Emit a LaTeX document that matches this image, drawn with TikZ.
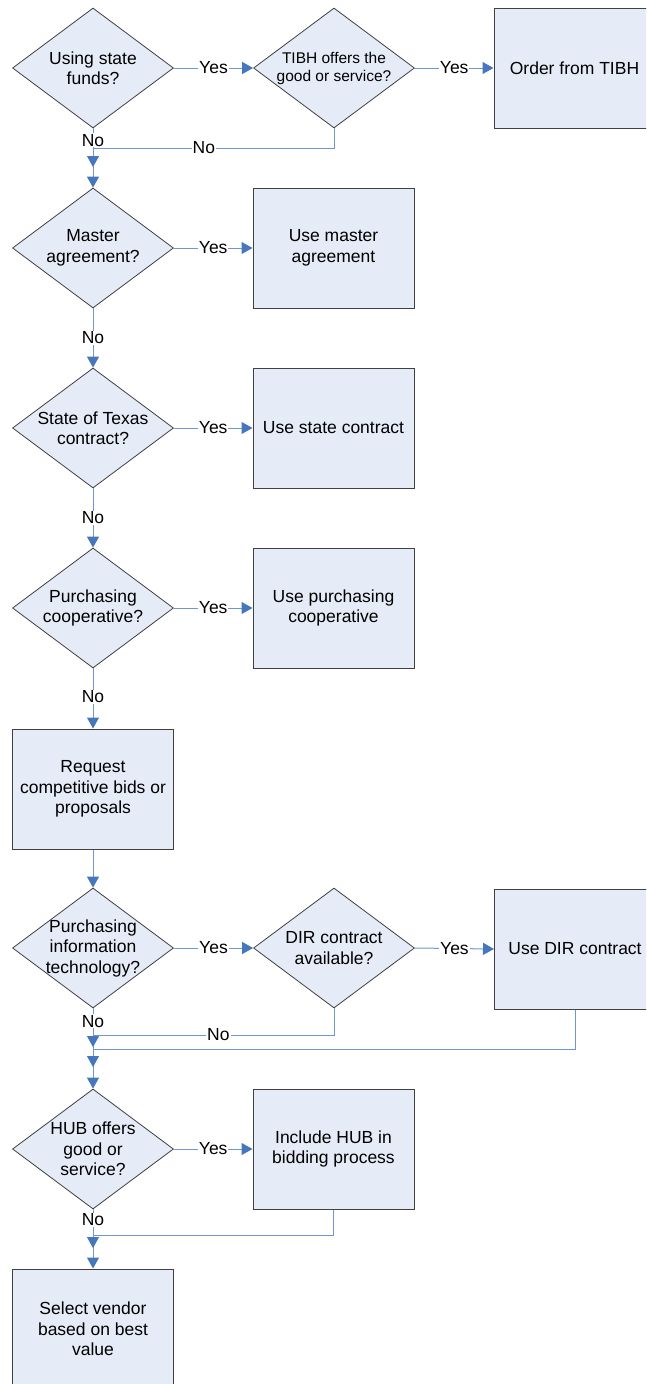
\documentclass[tikz,border=0pt]{standalone}
\usepackage{fontspec}
\setmainfont{Liberation Sans}
\usetikzlibrary{arrows.meta,shapes.geometric}
\definecolor{shapefill}{RGB}{230,236,247}
\definecolor{shapeline}{RGB}{64,64,64}
\definecolor{linkline}{RGB}{112,152,206}
\definecolor{tipblue}{RGB}{70,118,188}
\begin{document}
\begin{tikzpicture}[x=1pt,y=-1pt,
  txt/.style={font=\fontsize{17.5}{20.5}\selectfont, align=center},
  txts/.style={font=\fontsize{15.5}{18}\selectfont, align=center},
  diabase/.style={shape=diamond, draw=shapeline, fill=shapefill, line width=0.8pt,
    minimum width=161pt, minimum height=120pt, inner sep=0pt},
  dia/.style={diabase, label={[txt]center:{#1}}},
  dias/.style={diabase, label={[txts]center:{#1}}},
  box/.style={rectangle, draw=shapeline, fill=shapefill, line width=1pt,
    minimum width=161pt, minimum height=120pt, inner sep=0pt, txt},
  link/.style={draw=linkline, line width=1pt},
  arr/.style={link, -{Triangle[length=11pt,width=12pt,color=tipblue]}},
  lab/.style={fill=white, inner sep=1pt, font=\fontsize{17.5}{20.5}\selectfont},
]
\useasboundingbox (0,0) rectangle (646,1384);
\clip (0,0) rectangle (646,1384);

% nodes
\node[dia={Using state\\funds?}] (d1) at (93,68) {};
\node[dias={TIBH offers the\\good or service?}] (d2) at (334,68) {};
\node[box] (b1) at (574.5,68) {Order from TIBH};
\node[dia={Master\\agreement?}] (d3) at (93,248) {};
\node[box] (b2) at (333.5,248) {Use master\\agreement};
\node[dia={State of Texas\\contract?}] (d4) at (93,428) {};
\node[box] (b3) at (333.5,428) {Use state contract};
\node[dia={Purchasing\\cooperative?}] (d5) at (93,608) {};
\node[box] (b4) at (333.5,608) {Use purchasing\\cooperative};
\node[box] (b5) at (93,789) {Request\\competitive bids or\\proposals};
\node[dia={Purchasing\\information\\technology?}] (d6) at (93,948) {};
\node[dia={DIR contract\\available?}] (d7) at (334,948) {};
\node[box] (b6) at (575,949) {Use DIR contract};
\node[dia={HUB offers\\good or\\service?}] (d8) at (93,1149) {};
\node[box] (b7) at (333.5,1149) {Include HUB in\\bidding process};
\node[box] (b8) at (93,1329) {Select vendor\\based on best\\value};

% helper coordinates
\coordinate (c1) at (93,148);  \coordinate (a1) at (93,167);
\coordinate (c2) at (93,1035); \coordinate (a2) at (93,1047);
\coordinate (c3) at (93,1049); \coordinate (a3) at (93,1067);
\coordinate (c4) at (93,1235); \coordinate (a4) at (93,1248);

% connectors
\draw[arr] (d1.east) -- node[lab]{Yes} (d2.west);
\draw[arr] (d2.east) -- node[lab]{Yes} (b1.west);
\draw[arr] (d1.south) -- node[lab,pos=0.2]{No} (d3.north);
\draw[arr] (d2.south) |- node[lab,pos=0.77]{No} (c1) -- (a1);

\draw[arr] (d3.east) -- node[lab]{Yes} (b2.west);
\draw[arr] (d3.south) -- node[lab]{No} (d4.north);
\draw[arr] (d4.east) -- node[lab]{Yes} (b3.west);
\draw[arr] (d4.south) -- node[lab]{No} (d5.north);
\draw[arr] (d5.east) -- node[lab]{Yes} (b4.west);
\draw[arr] (d5.south) -- node[lab,pos=0.475]{No} (b5.north);
\draw[arr] (b5.south) -- (d6.north);

\draw[arr] (d6.east) -- node[lab]{Yes} (d7.west);
\draw[arr] (d7.east) -- node[lab]{Yes} (b6.west);
\draw[arr] (d6.south) -- node[lab,pos=0.16]{No} (d8.north);
\draw[arr] (d7.south) |- node[lab,pos=0.74]{No} (c2) -- (a2);
\draw[arr] (b6.south) |- (c3) -- (a3);

\draw[arr] (d8.east) -- node[lab]{Yes} (b7.west);
\draw[arr] (d8.south) -- node[lab,pos=0.18]{No} (b8.north);
\draw[arr] (b7.south) |- (c4) -- (a4);
\end{tikzpicture}
\end{document}
